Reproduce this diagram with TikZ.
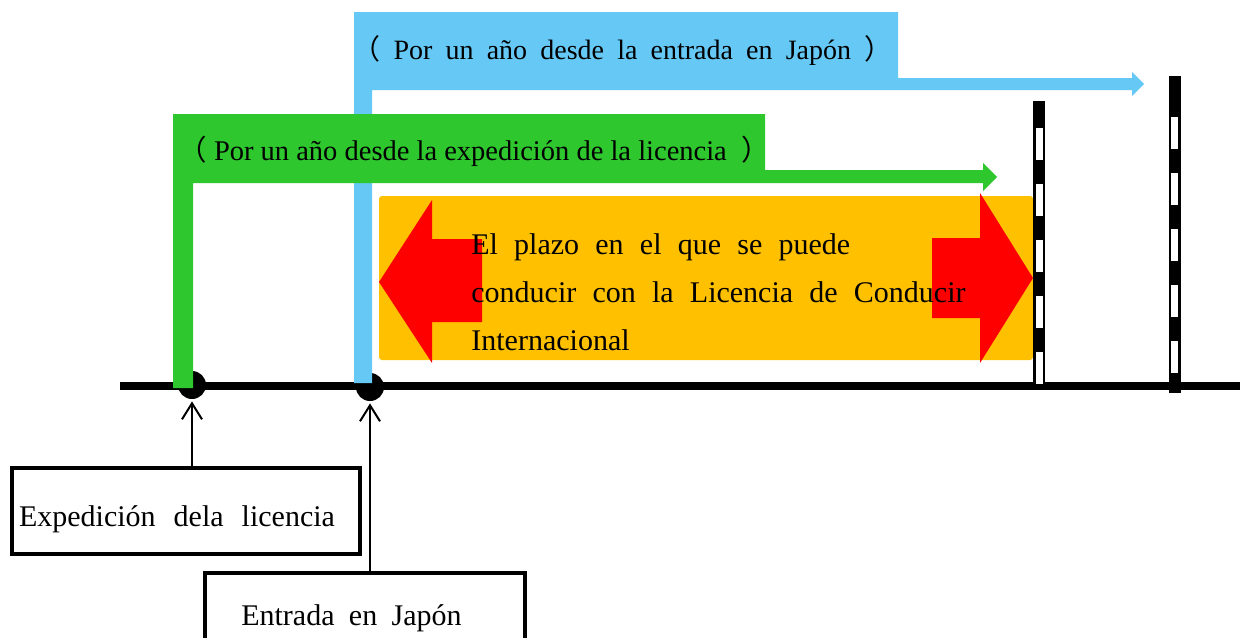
\documentclass[tikz,border=0pt]{standalone}
\usepackage{fontspec}
\setmainfont{Liberation Serif}
\newfontfamily\cjkparen{Noto Sans CJK JP}
\usepackage{tikz}
\usetikzlibrary{positioning,calc,arrows.meta}
\definecolor{bandblue}{RGB}{102,200,245}
\definecolor{bandgreen}{RGB}{46,200,46}
\definecolor{plazoorange}{RGB}{255,192,0}

\begin{document}
\begin{tikzpicture}[
		x=0.5pt,y=-0.5pt,
		lbl/.style={font=\fontsize{14}{24}\selectfont, inner sep=0pt, anchor=west, align=left},
		wsp/.style={execute at begin node={\spaceskip=#1\relax}},
		caja/.style={draw, line width=2pt, inner xsep=1pt, font=\fontsize{15}{18}\selectfont, anchor=north west},
		dot/.style={circle, fill=black, inner sep=0pt, minimum size=14pt},
		postline/.style={line width=6pt},
		postdash/.style={white, line width=3.5pt, dash pattern=on 16pt off 12pt},
		>={Straight Barb[length=8pt,width=10pt]}
		]
		\useasboundingbox (0,0) rectangle (1240,637);
		
		% ====== LINEA DE TIEMPO ======
		\draw[line width=4pt] (120,386) -- (1240,386);
		\node[dot] (expdot) at (192,385) {};
		\node[dot] (entdot) at (370,387) {};
		
		% ====== PLAZO (naranja + flechas rojas) ======
		\fill[plazoorange, rounded corners=1.5pt] (379,196) rectangle (1033,360);
		\fill[red] (379,282) -- (432,200) -- (432,239) -- (482,239) -- (482,322) -- (432,322) -- (432,363) -- cycle;
		\fill[red] (1033,278) -- (980,193) -- (980,238) -- (932,238) -- (932,318) -- (980,318) -- (980,363) -- cycle;
		\node[lbl, font=\fontsize{15}{24}\selectfont, wsp=0.54em] (plazo) at (471,292)
		{El plazo en el que se puede\\
			conducir con la Licencia de Conducir\\
			Internacional};
		
		% ====== BANDAS ======
		\fill[bandblue] (354,383) -- (354,12) -- (898,12) -- (898,78) -- (1132,78) -- (1132,72)
		-- (1144,84) -- (1132,96) -- (1132,90) -- (372,90) -- (372,383) -- cycle;
		\node[lbl, wsp=0.47em] (lblblue) at (352,50)
		{{\cjkparen （} Por un año desde la entrada en Japón {\cjkparen ）}};
		
		\fill[bandgreen] (173,388) -- (173,114) -- (765,114) -- (765,170) -- (983,170) -- (983,163)
		-- (997,177) -- (983,191) -- (983,183) -- (193,183) -- (193,388) -- cycle;
		\node[lbl, font=\fontsize{14.25}{24}\selectfont] (lblgreen) at (178,151)
		{{\cjkparen （} Por un año desde la expedición de la licencia \ {\cjkparen ）}};
		
		% ====== POSTES ======
		\draw[postline] (1039,101) -- (1039,384);
		\draw[postdash] (1039,128) -- (1039,384);
		\draw[postline] (1174.5,76) -- (1174.5,393);
		\draw[postdash] (1174.5,117) -- (1174.5,373);
		
		% ====== CAJAS ======
		\node[caja, wsp=0.6em, minimum width=174pt, minimum height=43pt] (expbox) at (10,466)
		{\raisebox{-4pt}[\height][\depth]{Expedición dela licencia}\rule{9pt}{0pt}};
		\node[caja, wsp=0.48em, minimum width=160pt, minimum height=45pt] (entbox) at (203,571)
		{Entrada en Japón\rule{13.5pt}{0pt}};
		
		% ====== FLECHAS ======
		\draw[->, line width=1pt, shorten >=1pt] (expbox.north -| expdot) -- (expdot.south);
		\draw[->, line width=1pt, shorten >=1pt] (entbox.north -| entdot) -- (entdot.south);
		
	\end{tikzpicture}
\end{document}
